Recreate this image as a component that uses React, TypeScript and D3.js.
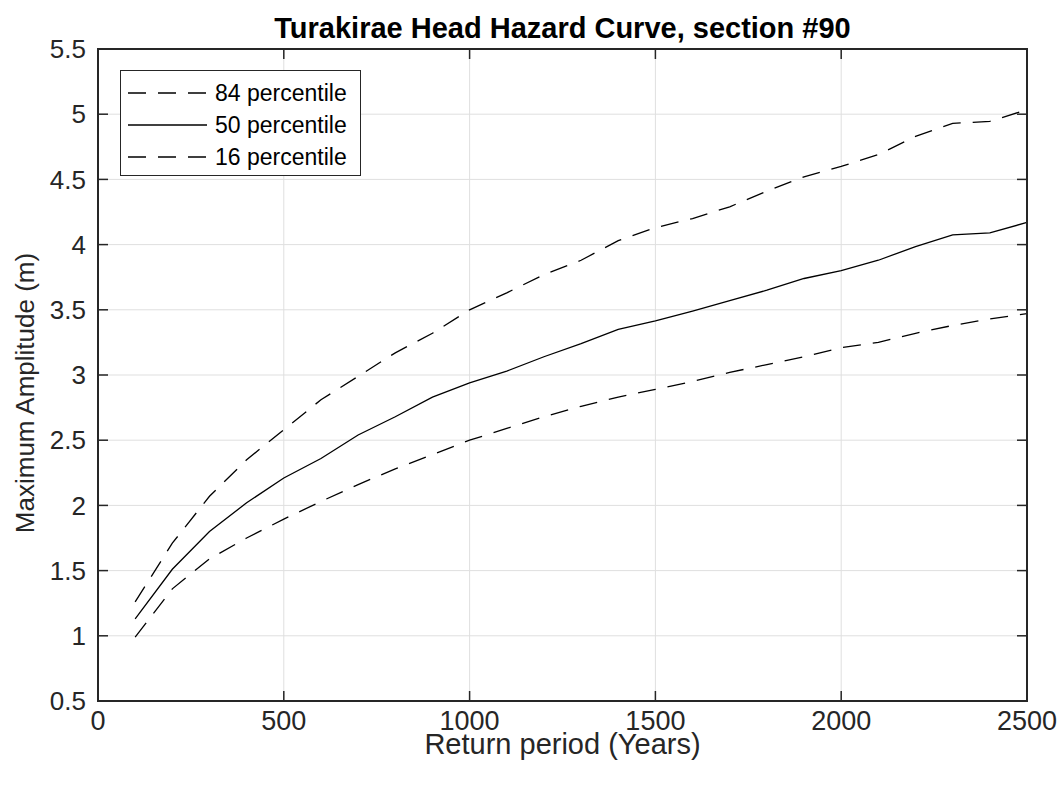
import * as d3 from "d3";

const years = [100, 200, 300, 400, 500, 600, 700, 800, 900, 1000, 1100, 1200, 1300, 1400, 1500, 1600, 1700, 1800, 1900, 2000, 2100, 2200, 2300, 2400, 2500];
const p84 = [1.26, 1.71, 2.07, 2.35, 2.58, 2.81, 2.99, 3.17, 3.32, 3.5, 3.63, 3.77, 3.88, 4.03, 4.13, 4.2, 4.29, 4.41, 4.52, 4.6, 4.69, 4.83, 4.93, 4.945, 5.035];
const p50 = [1.13, 1.51, 1.8, 2.02, 2.21, 2.36, 2.54, 2.68, 2.83, 2.94, 3.03, 3.14, 3.24, 3.35, 3.415, 3.49, 3.57, 3.65, 3.74, 3.8, 3.88, 3.985, 4.075, 4.09, 4.17];
const p16 = [0.99, 1.36, 1.59, 1.75, 1.895, 2.03, 2.16, 2.28, 2.39, 2.5, 2.59, 2.68, 2.76, 2.83, 2.89, 2.95, 3.02, 3.08, 3.14, 3.21, 3.25, 3.32, 3.38, 3.43, 3.47];

const xTicks = [0, 500, 1000, 1500, 2000, 2500];
const yTicks = [0.5, 1, 1.5, 2, 2.5, 3, 3.5, 4, 4.5, 5, 5.5];

const series = [
  { name: "84 percentile", values: p84, dash: "18,12" },
  { name: "50 percentile", values: p50, dash: "none" },
  { name: "16 percentile", values: p16, dash: "18,12" },
];

const W = 1062;
const H = 788;
const left = 98, right = 1027, top = 49, bottom = 701;
const ink = "#262626";
const font = "'Liberation Sans', Arial, Helvetica, sans-serif";

export default function App() {
  const x = d3.scaleLinear().domain([0, 2500]).range([left, right]);
  const y = d3.scaleLinear().domain([0.5, 5.5]).range([bottom, top]);

  const line = d3
    .line<number>()
    .x((_, i) => x(years[i]))
    .y((d) => y(d));

  const tickLen = 10;

  return (
    <svg
      width={W}
      height={H}
      style={{ position: "absolute", left: 0, top: 0, background: "#fff" }}
      fontFamily={font}
    >
      <rect x={0} y={0} width={W} height={H} fill="#fff" />

      {/* grid */}
      {xTicks.map((t) => (
        <line key={"gx" + t} x1={x(t)} x2={x(t)} y1={top} y2={bottom} stroke="#dfdfdf" strokeWidth={1} />
      ))}
      {yTicks.map((t) => (
        <line key={"gy" + t} x1={left} x2={right} y1={y(t)} y2={y(t)} stroke="#dfdfdf" strokeWidth={1} />
      ))}

      {/* data */}
      {series.map((s) => (
        <path
          key={s.name}
          d={line(s.values) ?? ""}
          fill="none"
          stroke="#000"
          strokeWidth={1.3}
          strokeDasharray={s.dash}
        />
      ))}

      {/* ticks on all four sides */}
      {xTicks.map((t) => (
        <g key={"tx" + t} stroke={ink} strokeWidth={1.5}>
          <line x1={x(t)} x2={x(t)} y1={bottom} y2={bottom - tickLen} />
          <line x1={x(t)} x2={x(t)} y1={top} y2={top + tickLen} />
        </g>
      ))}
      {yTicks.map((t) => (
        <g key={"ty" + t} stroke={ink} strokeWidth={1.5}>
          <line x1={left} x2={left + tickLen} y1={y(t)} y2={y(t)} />
          <line x1={right} x2={right - tickLen} y1={y(t)} y2={y(t)} />
        </g>
      ))}

      <rect x={left} y={top} width={right - left} height={bottom - top} fill="none" stroke={ink} strokeWidth={2} />

      {/* tick labels */}
      {xTicks.map((t) => (
        <text key={"lx" + t} x={x(t)} y={bottom + 29} textAnchor="middle" fontSize={27} fill={ink}>
          {t}
        </text>
      ))}
      {yTicks.map((t) => (
        <text key={"ly" + t} x={left - 12} y={y(t)} dy="0.35em" textAnchor="end" fontSize={26} fill={ink}>
          {t}
        </text>
      ))}

      {/* axis labels */}
      <text x={(left + right) / 2} y={754} textAnchor="middle" fontSize={29} fill={ink}>
        Return period (Years)
      </text>
      <text
        transform={`translate(34, 393) rotate(-90)`}
        textAnchor="middle"
        fontSize={26}
        fill={ink}
      >
        Maximum Amplitude (m)
      </text>

      {/* title */}
      <text x={(left + right) / 2} y={38} textAnchor="middle" fontSize={29} fontWeight="bold" fill="#000">
        Turakirae Head Hazard Curve, section #90
      </text>

      {/* legend */}
      <g>
        <rect x={120.5} y={70.5} width={240} height={105} fill="#fff" stroke={ink} strokeWidth={1} />
        {series.map((s, i) => {
          const ly = 93 + i * 32;
          return (
            <g key={"lg" + s.name}>
              <line x1={128} x2={207} y1={ly} y2={ly} stroke="#000" strokeWidth={1.3} strokeDasharray={s.dash} />
              <text x={215} y={ly} dy="0.35em" fontSize={23} fill="#000">
                {s.name}
              </text>
            </g>
          );
        })}
      </g>
    </svg>
  );
}
